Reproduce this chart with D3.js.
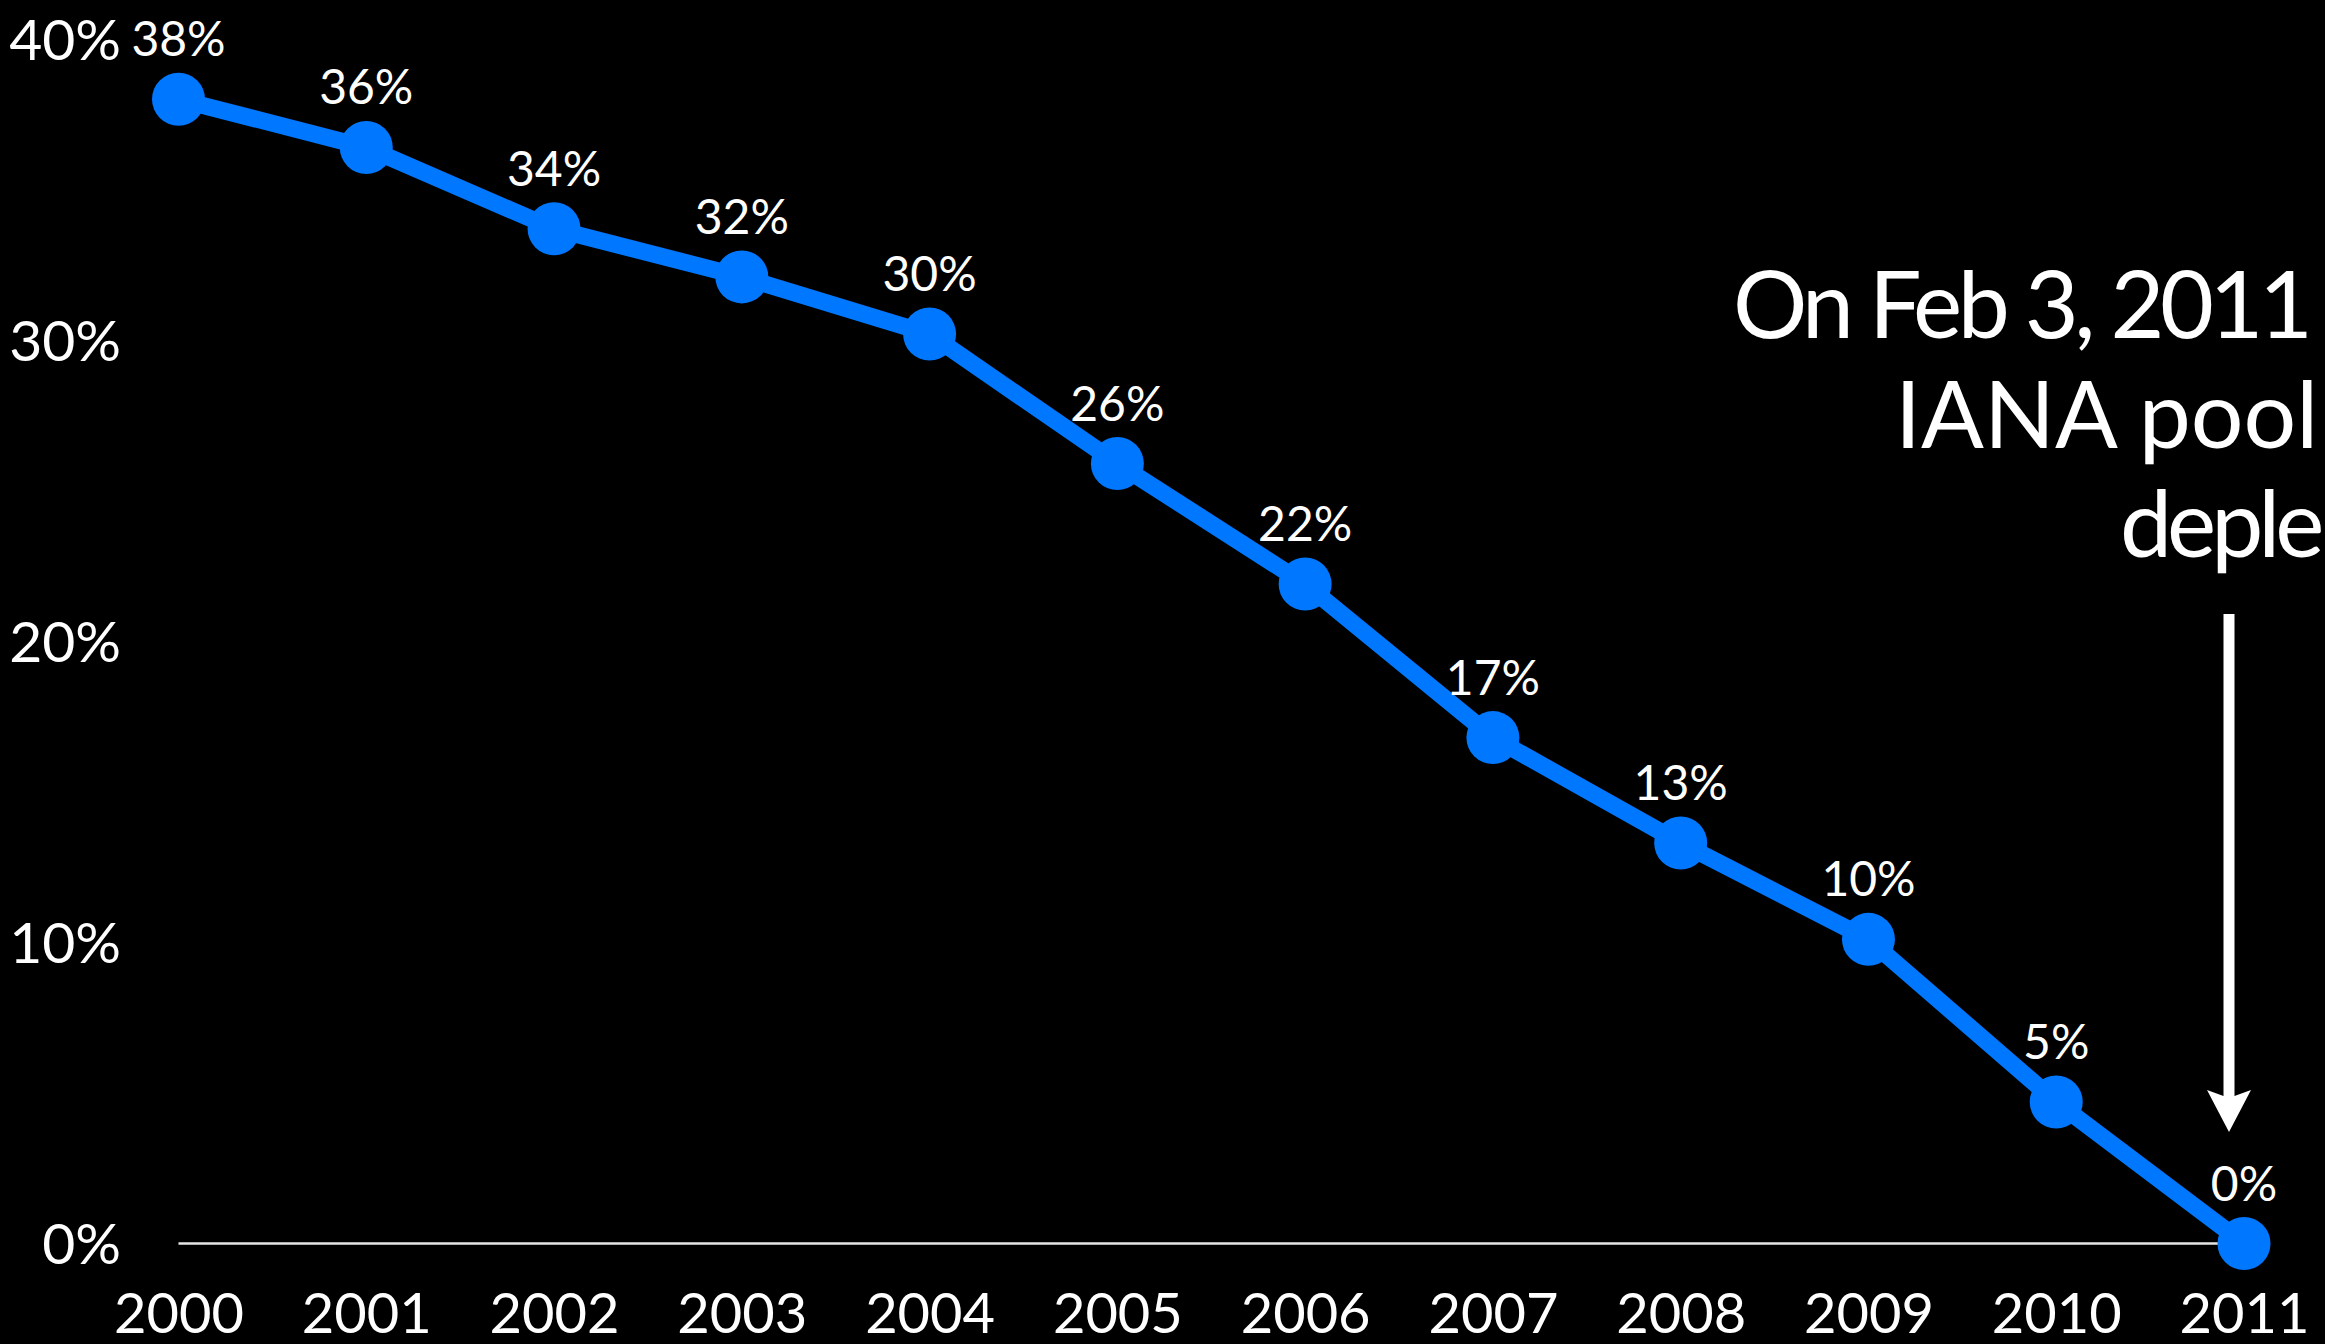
<!DOCTYPE html>
<html>
<head>
<meta charset="utf-8">
<script src="https://cdn.jsdelivr.net/npm/d3@7"></script>
<style>
  html, body { margin: 0; padding: 0; background: #000; overflow: hidden; }
  svg { display: block; }
</style>
</head>
<body>
<script>
// ---- data ----
const years = [2000, 2001, 2002, 2003, 2004, 2005, 2006, 2007, 2008, 2009, 2010, 2011];
const values = [38.0, 36.4, 33.7, 32.1, 30.2, 25.9, 21.9, 16.8, 13.3, 10.1, 4.7, 0];
const valueLabels = ["38%", "36%", "34%", "32%", "30%", "26%", "22%", "17%", "13%", "10%", "5%", "0%"];
const yTicks = [0, 10, 20, 30, 40];
const yTickLabels = ["0%", "10%", "20%", "30%", "40%"];
const annotationLines = ["On Feb 3, 2011", "IANA pool", "deple"];

// ---- layout ----
const W = 2325, H = 1344;
const FONT = "Lato, 'Noto Sans', sans-serif";
const BLUE = "#0077ff";

const svg = d3.select("body").append("svg")
  .attr("width", W).attr("height", H)
  .style("background", "#000");

const x = d3.scalePoint().domain(years).range([178.5, 2244]);
const y = d3.scaleLinear().domain([0, 40]).range([1243.5, 39]);

// y axis labels
const yAxis = svg.append("g")
  .attr("transform", "translate(121,0)")
  .call(d3.axisLeft(y).tickValues(yTicks).tickSize(0)
    .tickFormat((d, i) => yTickLabels[i]));
yAxis.select(".domain").remove();
yAxis.selectAll("text")
  .attr("x", 0).attr("dy", 0).attr("y", 20)
  .attr("fill", "#fff")
  .style("font-family", FONT).style("font-size", "57px");

// x axis labels
const xAxis = svg.append("g")
  .attr("transform", `translate(0,${y(0)})`)
  .call(d3.axisBottom(x).tickSize(0).tickFormat(d => String(d)));
xAxis.select(".domain").remove();
xAxis.selectAll("text")
  .attr("y", 89).attr("dy", 0)
  .attr("fill", "#fff")
  .style("font-family", FONT).style("font-size", "56px");

// baseline
svg.append("line")
  .attr("x1", x(years[0])).attr("x2", x(years[years.length - 1]))
  .attr("y1", y(0)).attr("y2", y(0))
  .attr("stroke", "#e6e6e6").attr("stroke-width", 2.5);

// line
const pts = years.map((yr, i) => [yr, values[i]]);
svg.append("path")
  .datum(pts)
  .attr("fill", "none")
  .attr("stroke", BLUE)
  .attr("stroke-width", 17)
  .attr("stroke-linejoin", "round")
  .attr("d", d3.line().x(d => x(d[0])).y(d => y(d[1])));

// dots
svg.selectAll("circle.dot")
  .data(pts).enter().append("circle")
  .attr("class", "dot")
  .attr("cx", d => x(d[0])).attr("cy", d => y(d[1]))
  .attr("r", 26.5)
  .attr("fill", BLUE);

// value labels
svg.selectAll("text.val")
  .data(pts).enter().append("text")
  .attr("class", "val")
  .attr("x", d => x(d[0]))
  .attr("y", d => y(d[1]) - 43)
  .attr("text-anchor", "middle")
  .attr("fill", "#fff")
  .style("font-family", FONT).style("font-size", "48px")
  .text((d, i) => valueLabels[i]);

// annotation
const annStarts = [1733, 1895, 2120];
const annBaselines = [338, 448, 557];
const ann = svg.selectAll("text.ann")
  .data(annotationLines).enter().append("text")
  .attr("class", "ann")
  .attr("x", (d, i) => annStarts[i])
  .attr("y", (d, i) => annBaselines[i])
  .attr("fill", "#fff")
  .style("font-family", FONT).style("font-size", "93px")
  .text(d => d);
ann.filter((d, i) => i === 0)
  .attr("textLength", 580).attr("lengthAdjust", "spacing");
ann.filter((d, i) => i === 2)
  .style("letter-spacing", "-5px");

// arrow
const ax = 2229, aTop = 614, headTop = 1090, tip = 1132;
svg.append("line")
  .attr("x1", ax).attr("x2", ax).attr("y1", aTop).attr("y2", headTop + 10)
  .attr("stroke", "#fff").attr("stroke-width", 11);
svg.append("path")
  .attr("d", `M${ax - 22},${headTop} L${ax},${headTop + 8} L${ax + 22},${headTop} L${ax},${tip} Z`)
  .attr("fill", "#fff");
</script>
</body>
</html>
